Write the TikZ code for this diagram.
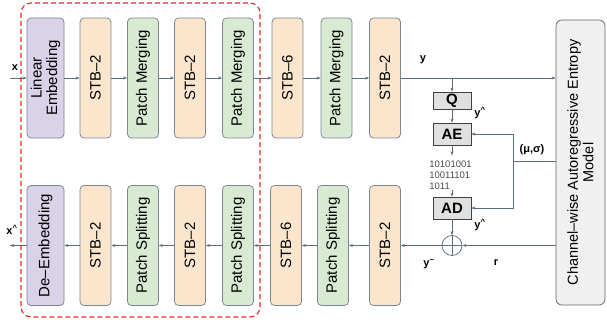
\documentclass[tikz,border=0pt]{standalone}
\usepackage{fontspec}
\setmainfont{Liberation Sans}
\usetikzlibrary{arrows.meta}
\definecolor{embfill}{HTML}{D9D2E9}
\definecolor{stbfill}{HTML}{FCE5CD}
\definecolor{pmfill}{HTML}{D9EAD3}
\definecolor{boxline}{HTML}{7A8694}
\definecolor{arrline}{HTML}{5D6B7C}
\definecolor{dashred}{HTML}{E8282B}

\begin{document}
\begin{tikzpicture}[x=1pt,y=-1pt,line width=0.75,
    blk/.style={draw=boxline,rounded corners=4pt,rotate=90,minimum width=120pt,
      minimum height=31pt,inner sep=1pt,align=center,font=\fontsize{15}{15.5}\selectfont},
    emb/.style={blk,fill=embfill,minimum height=37pt},
    stb/.style={blk,fill=stbfill},
    pm/.style={blk,fill=pmfill},
    cbox/.style={draw=black!75,fill=black!12,minimum width=38pt,inner sep=0pt,
      font=\fontsize{15}{16}\selectfont\bfseries},
    lbl/.style={font=\fontsize{11}{13}\selectfont\bfseries,inner sep=0pt},
    arr/.style={draw=arrline,-{Stealth[length=4pt,width=3pt]}}]
  \useasboundingbox (0,0) rectangle (607,323);
  % encoder row
  \node[emb] (t1) at (45.5,78) {Linear\\Embedding};
  \node[stb] (t2) at (95.5,78) {STB--2};
  \node[pm]  (t3) at (143,78) {Patch Merging};
  \node[stb] (t4) at (190,78) {STB--2};
  \node[pm]  (t5) at (238,78) {Patch Merging};
  \node[stb] (t6) at (287.5,78) {STB--6};
  \node[pm]  (t7) at (336.5,78) {Patch Merging};
  \node[stb] (t8) at (385,78) {STB--2};
  % decoder row
  \node[emb] (b1) at (45.5,245.5) {De--Embedding};
  \node[stb] (b2) at (95.5,245.5) {STB--2};
  \node[pm]  (b3) at (143,245.5) {Patch Splitting};
  \node[stb] (b4) at (190,245.5) {STB--2};
  \node[pm]  (b5) at (238,245.5) {Patch Splitting};
  \node[stb] (b6) at (286,245.5) {STB--6};
  \node[pm]  (b7) at (333,245.5) {Patch Splitting};
  \node[stb] (b8) at (385,245.5) {STB--2};
  % entropy model and coding
  \node[draw=black!60,fill=black!6,rounded corners=6pt,rotate=90,minimum width=285pt,
    minimum height=49pt,align=center,font=\fontsize{14.5}{15.5}\selectfont]
    (ent) at (580.5,162.5) {Channel--wise Autoregressive Entropy\\Model};
  \node[cbox,minimum height=17pt] (q) at (452,100.5) {Q};
  \node[cbox,minimum height=22pt] (ae) at (452,134) {AE};
  \node[cbox,minimum height=22pt] (ad) at (452,208) {AD};
  \node[draw=arrline,circle,minimum size=20pt,inner sep=0pt] (sum) at (452,245.5) {};
  \draw[arrline] (sum.north)--(sum.south) (sum.west)--(sum.east);
  \node[anchor=west,align=left,inner sep=0pt,text=black!70,
    font=\fontsize{9.5}{11}\selectfont] (bits) at (429,175) {10101001\\10011101\\1011};
  \coordinate (xin) at (10,78);
  \coordinate (xout) at (10,245.5);
  \coordinate (yb) at (452,78);
  \coordinate (ms) at (513,161);
  % labels
  \node[lbl] (lx) at (15,68) {x};
  \node[lbl] (lxh) at (12,230) {x\textsuperscript{\^{}}};
  \node[lbl] (ly) at (423,60) {y};
  \node[lbl] (lyq) at (480,113) {y\textsuperscript{\^{}}};
  \node[lbl] (lyd) at (480,225) {y\textsuperscript{\^{}}};
  \node[lbl] (lyt) at (429,264) {y\textsuperscript{\textasciitilde}};
  \node[lbl] (lr) at (496,263) {r};
  \node[lbl] (lms) at (532,150) {(μ,σ)};
  % connectors
  \draw[arr] (xin) -- (t1);
  \draw[arr] (t1) -- (t2);
  \draw[arr] (t2) -- (t3);
  \draw[arr] (t3) -- (t4);
  \draw[arr] (t4) -- (t5);
  \draw[arr] (t5) -- (t6);
  \draw[arr] (t6) -- (t7);
  \draw[arr] (t7) -- (t8);
  \draw[arr] (t8) -- (t8 -| ent.north);
  \draw[arr] (yb) -- (q);
  \draw[arr] (q) -- (ae);
  \draw[arr] (ae.south) -- ++(0,10);
  \draw[arr] (bits.south -| ad.north) -- (ad.north);
  \draw[arr] (ad) -- (sum);
  \draw[arrline] (ent.north |- ms) -- (ms);
  \draw[arr] (ms) |- (ae);
  \draw[arr] (ms) |- (ad);
  \draw[arr] (sum -| ent.north) -- (sum);
  \draw[arr] (sum) -- (b8);
  \draw[arr] (b8) -- (b7);
  \draw[arr] (b7) -- (b6);
  \draw[arr] (b6) -- (b5);
  \draw[arr] (b5) -- (b4);
  \draw[arr] (b4) -- (b3);
  \draw[arr] (b3) -- (b2);
  \draw[arr] (b2) -- (b1);
  \draw[arr] (b1) -- (xout);
  \draw[dashred,dash pattern=on 5pt off 3pt,line width=1.1,rounded corners=10pt]
    (21,3) rectangle (260,317);
\end{tikzpicture}
\end{document}
